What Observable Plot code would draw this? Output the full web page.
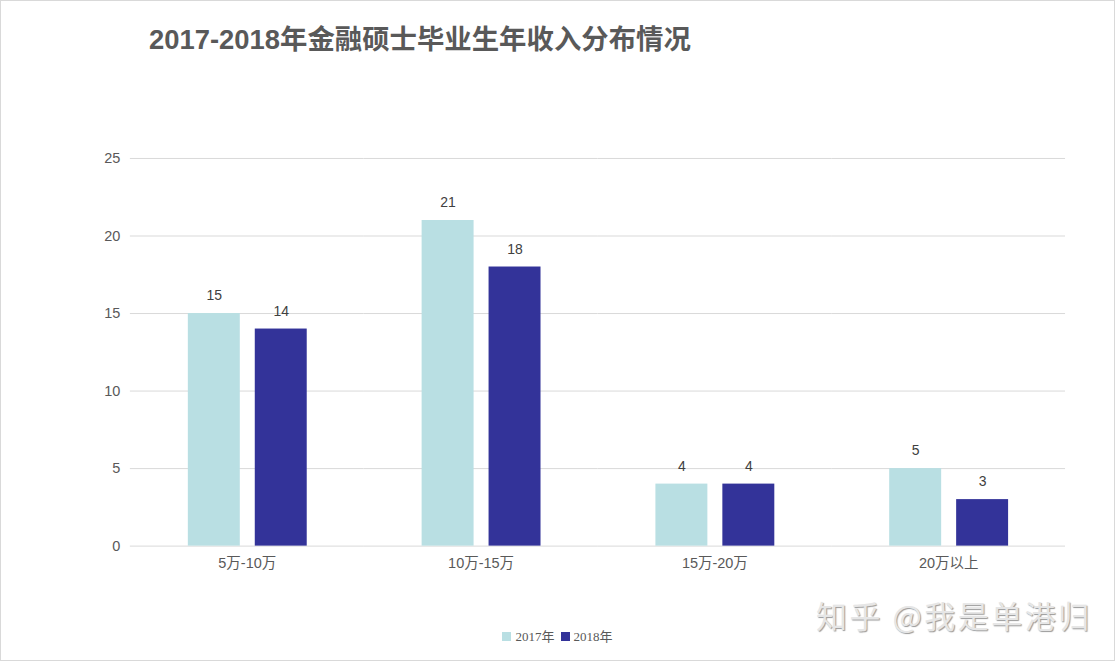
<!DOCTYPE html>
<html><head><meta charset="utf-8">
<script src="https://cdn.jsdelivr.net/npm/d3@7"></script>
<script src="https://cdn.jsdelivr.net/npm/@observablehq/plot@0.6"></script>
<style>
html,body{margin:0;padding:0;background:#fff;}
#wrap{position:relative;width:1113px;height:659px;border:1px solid #d9d9d9;overflow:hidden;font-family:"Liberation Sans","Noto Sans CJK SC",sans-serif;}
#title{position:absolute;left:148px;top:16px;font-size:27.4px;font-weight:bold;color:#595959;font-family:"Liberation Sans","Noto Sans CJK SC",sans-serif;white-space:nowrap;}
#chart{position:absolute;left:-1px;top:129px;}
#legend{position:absolute;left:0;width:1113px;top:625px;text-align:center;font-size:13px;color:#595959;font-family:"Liberation Serif","Noto Sans CJK SC",serif;}
#legend span.sw{display:inline-block;width:9px;height:9px;margin-right:4px;vertical-align:-0px;}
#legend span.it{margin:0 3px;}
#wm{position:absolute;left:815px;top:591px;font-size:31px;color:#e6e6e6;text-shadow:1px 1px 1px #9a9a9a;font-family:"Noto Sans CJK SC",sans-serif;white-space:nowrap;letter-spacing:2.5px;}
</style></head>
<body>
<div id="wrap">
  <div id="title"></div>
  <div id="chart"></div>
  <div id="legend"></div>
  <div id="wm">知乎 @我是单港归</div>
</div>
<script>
const titleText = "2017-2018年金融硕士毕业生年收入分布情况";
const categories = ["5万-10万", "10万-15万", "15万-20万", "20万以上"];
const years = ["2017年", "2018年"];
const values2017 = [15, 21, 4, 5];
const values2018 = [14, 18, 4, 3];
const yTicks = [0, 5, 10, 15, 20, 25];
const colors = ["#b9dfe3", "#333399"];

document.getElementById("title").textContent = titleText;

const data = [];
categories.forEach((c, i) => {
  data.push({cat: c, year: years[0], value: values2017[i]});
  data.push({cat: c, year: years[1], value: values2018[i]});
});

const chart = Plot.plot({
  width: 1115,
  height: 450,
  marginLeft: 130,
  marginRight: 49,
  marginTop: 28,
  marginBottom: 34,
  style: {fontFamily: "'Liberation Sans','Noto Sans CJK SC',sans-serif", fontSize: "14.5px", color: "#595959", background: "transparent"},
  fx: {domain: categories, padding: 0, label: null, tickSize: 0, tickPadding: 12, axis: "bottom"},
  x: {domain: years, axis: null, paddingInner: 0.224, paddingOuter: 0.858},
  y: {domain: [0, 25], ticks: yTicks, label: null, tickSize: 0, tickPadding: 10, grid: false},
  color: {domain: years, range: colors},
  marks: [
    Plot.gridY(yTicks, {stroke: "#d9d9d9", strokeOpacity: 1}),
    Plot.barY(data, {fx: "cat", x: "year", y: "value", fill: "year"}),
    Plot.text(data, {fx: "cat", x: "year", y: "value", text: d => String(d.value), dy: -18, fill: "#404040", fontSize: 14})
  ]
});
document.getElementById("chart").appendChild(chart);

const lg = document.getElementById("legend");
years.forEach((y, i) => {
  const it = document.createElement("span");
  it.className = "it";
  const sw = document.createElement("span");
  sw.className = "sw";
  sw.style.background = colors[i];
  it.appendChild(sw);
  it.appendChild(document.createTextNode(y));
  lg.appendChild(it);
});
</script>
</body></html>
